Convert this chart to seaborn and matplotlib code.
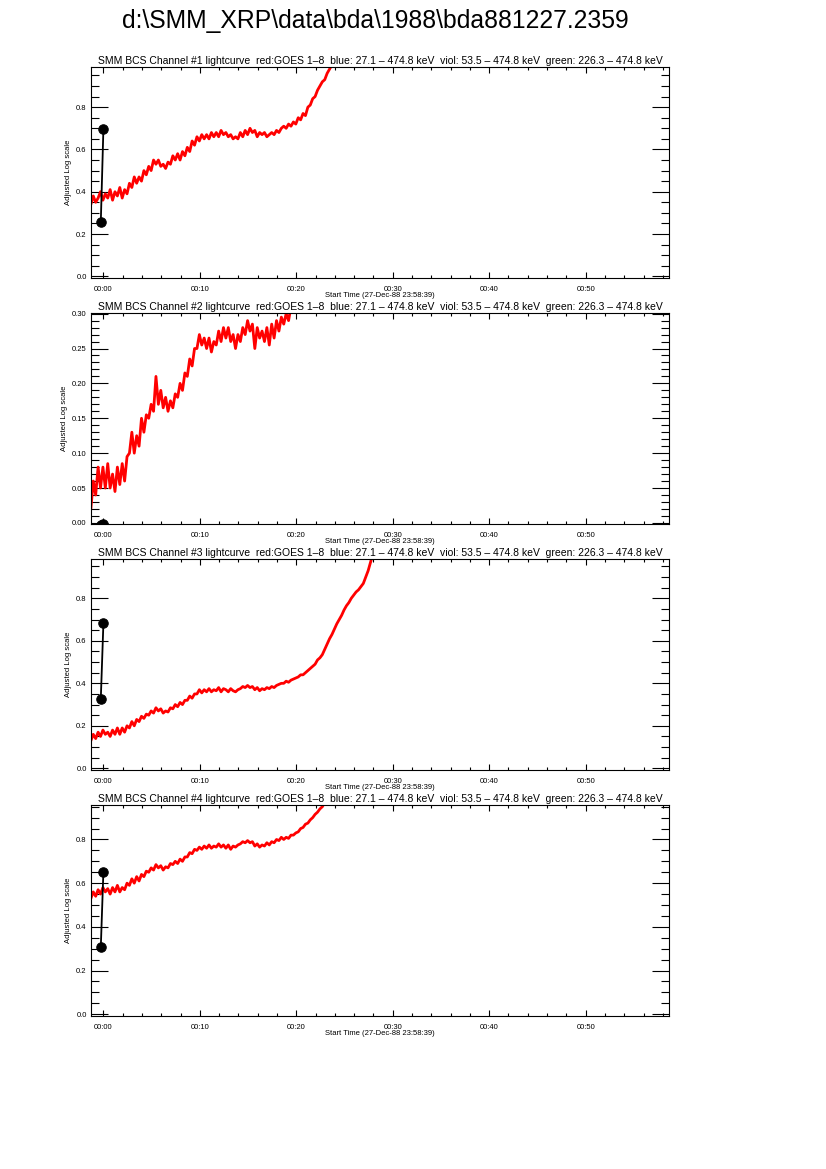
import numpy as np
import pandas as pd
import matplotlib
matplotlib.use("Agg")
import matplotlib.pyplot as plt
import matplotlib.ticker as mticker
import seaborn as sns

sns.set_style("ticks")
plt.rcParams['font.family'] = ['Liberation Sans', 'DejaVu Sans']
plt.rcParams['text.color'] = 'black'
plt.rcParams['axes.labelcolor'] = 'black'
plt.rcParams['xtick.color'] = 'black'
plt.rcParams['ytick.color'] = 'black'
plt.rcParams['axes.edgecolor'] = 'black'

# Time grid of the lightcurves: minutes relative to 00:00, sample step in minutes
t0 = -1.3
dt = 0.25

# Channel #1 red curve (adjusted log scale)
ch1 = [0.34, 0.38, 0.35, 0.37, 0.40, 0.36, 0.39, 0.37, 0.41, 0.36, 0.40, 0.38,
       0.42, 0.37, 0.41, 0.39, 0.44, 0.42, 0.47, 0.44, 0.47, 0.45, 0.50, 0.48,
       0.52, 0.50, 0.55, 0.53, 0.55, 0.52, 0.53, 0.51, 0.54, 0.53, 0.57, 0.55,
       0.58, 0.55, 0.59, 0.57, 0.61, 0.59, 0.64, 0.62, 0.66, 0.64, 0.67, 0.65,
       0.67, 0.65, 0.68, 0.66, 0.68, 0.66, 0.69, 0.67, 0.68, 0.66, 0.67, 0.65,
       0.66, 0.65, 0.68, 0.66, 0.69, 0.67, 0.70, 0.68, 0.69, 0.66, 0.68, 0.67,
       0.68, 0.66, 0.67, 0.68, 0.67, 0.69, 0.68, 0.70, 0.71, 0.70, 0.72, 0.71,
       0.73, 0.72, 0.75, 0.74, 0.77, 0.76, 0.80, 0.81, 0.84, 0.85, 0.88, 0.90,
       0.92, 0.93, 0.96, 0.98, 1.00, 1.02]

# Channel #2 red curve
ch2 = [0.02, 0.06, 0.04, 0.08, 0.05, 0.08, 0.05, 0.085, 0.05, 0.07, 0.045, 0.08,
       0.055, 0.085, 0.06, 0.095, 0.10, 0.13, 0.10, 0.125, 0.11, 0.15, 0.13, 0.155,
       0.15, 0.17, 0.16, 0.21, 0.17, 0.19, 0.165, 0.18, 0.16, 0.175, 0.165, 0.185,
       0.18, 0.20, 0.19, 0.215, 0.21, 0.235, 0.225, 0.25, 0.25, 0.27, 0.255, 0.265,
       0.25, 0.265, 0.245, 0.26, 0.255, 0.275, 0.26, 0.28, 0.265, 0.28, 0.26, 0.27,
       0.25, 0.27, 0.26, 0.28, 0.27, 0.29, 0.275, 0.285, 0.25, 0.28, 0.265, 0.275,
       0.26, 0.28, 0.255, 0.285, 0.265, 0.29, 0.275, 0.295, 0.285, 0.30, 0.29, 0.31,
       0.31]

# Channel #3 red curve
ch3 = [0.13, 0.16, 0.14, 0.17, 0.15, 0.18, 0.16, 0.17, 0.15, 0.18, 0.16, 0.19,
       0.16, 0.19, 0.17, 0.20, 0.19, 0.22, 0.20, 0.23, 0.22, 0.245, 0.235, 0.255,
       0.25, 0.27, 0.26, 0.285, 0.27, 0.28, 0.26, 0.27, 0.265, 0.285, 0.28, 0.30,
       0.29, 0.31, 0.30, 0.32, 0.32, 0.34, 0.33, 0.35, 0.35, 0.37, 0.355, 0.37,
       0.36, 0.375, 0.36, 0.37, 0.365, 0.38, 0.36, 0.375, 0.37, 0.36, 0.375, 0.365,
       0.36, 0.37, 0.375, 0.385, 0.38, 0.39, 0.38, 0.385, 0.37, 0.38, 0.365, 0.375,
       0.37, 0.38, 0.375, 0.385, 0.38, 0.39, 0.395, 0.40, 0.40, 0.41, 0.405, 0.415,
       0.42, 0.425, 0.43, 0.44, 0.44, 0.45, 0.46, 0.47, 0.48, 0.49, 0.51, 0.52,
       0.535, 0.56, 0.585, 0.61, 0.63, 0.655, 0.68, 0.70, 0.72, 0.745, 0.765, 0.78,
       0.80, 0.815, 0.83, 0.84, 0.855, 0.87, 0.90, 0.93, 0.97, 1.01]

# Channel #4 red curve
ch4 = [0.53, 0.56, 0.54, 0.57, 0.55, 0.58, 0.56, 0.575, 0.55, 0.58, 0.56, 0.59,
       0.56, 0.58, 0.57, 0.60, 0.59, 0.62, 0.60, 0.63, 0.61, 0.64, 0.63, 0.655,
       0.65, 0.67, 0.66, 0.685, 0.67, 0.68, 0.66, 0.675, 0.67, 0.69, 0.685, 0.70,
       0.69, 0.71, 0.70, 0.72, 0.72, 0.74, 0.735, 0.755, 0.75, 0.765, 0.755, 0.77,
       0.76, 0.775, 0.76, 0.77, 0.765, 0.78, 0.765, 0.775, 0.76, 0.775, 0.755, 0.77,
       0.765, 0.775, 0.78, 0.79, 0.785, 0.795, 0.785, 0.79, 0.77, 0.78, 0.765, 0.775,
       0.77, 0.785, 0.775, 0.79, 0.785, 0.80, 0.795, 0.81, 0.80, 0.81, 0.805, 0.82,
       0.82, 0.83, 0.835, 0.85, 0.855, 0.87, 0.875, 0.89, 0.90, 0.915, 0.925, 0.94,
       0.95, 0.97, 0.99]

# Black two-point markers per channel (minutes, value)
dots_t = [-0.27, 0.0]
dots_v = [[0.256, 0.697], [-0.003, -0.002], [0.326, 0.682], [0.306, 0.653]]

curves = [ch1, ch2, ch3, ch4]
ylims = [(-0.008, 0.99), (-0.0015, 0.301), (-0.008, 0.985), (-0.008, 0.958)]
ymajor = [0.2, 0.05, 0.2, 0.2]
yminor = [0.05, 0.01, 0.05, 0.05]
yfmt = ['%.1f', '%.2f', '%.1f', '%.1f']

xticks = [0, 10, 20, 30, 40, 50]
xtick_labels = ['00:00', '00:10', '00:20', '00:30', '00:40', '00:50']

panel_title = ('SMM BCS Channel #{} lightcurve  red:GOES 1\u20138  blue: 27.1 \u2013 474.8 keV  '
               'viol: 53.5 \u2013 474.8 keV  green: 226.3 \u2013 474.8 keV')

fig = plt.figure(figsize=(8.26, 11.69), dpi=100)
fig.text(0.454, 0.982, r'd:\SMM_XRP\data\bda\1988\bda881227.2359',
         ha='center', va='center', fontsize=17.8)

bottoms = [0.7622, 0.5518, 0.3413, 0.1309]
for i, vals in enumerate(curves):
    ax = fig.add_axes([0.110, bottoms[i], 0.700, 0.1805])
    df = pd.DataFrame({'t': t0 + dt * np.arange(len(vals)), 'v': vals})
    sns.lineplot(data=df, x='t', y='v', color='red', linewidth=2.0, ax=ax)
    sns.lineplot(x=dots_t, y=dots_v[i], color='black', linewidth=1.3,
                 marker='o', markersize=6.8, markeredgecolor='black', ax=ax)
    ax.set_xlim(-1.3, 58.65)
    ax.set_ylim(*ylims[i])
    ax.set_xticks(xticks)
    ax.set_xticklabels(xtick_labels)
    ax.xaxis.set_minor_locator(mticker.MultipleLocator(2))
    ax.yaxis.set_major_locator(mticker.MultipleLocator(ymajor[i]))
    ax.yaxis.set_minor_locator(mticker.MultipleLocator(yminor[i]))
    ax.yaxis.set_major_formatter(mticker.FormatStrFormatter(yfmt[i]))
    ax.tick_params(which='both', direction='in', top=True, right=True,
                   labelsize=5.5, width=0.8, color='black')
    ax.tick_params(axis='x', which='major', length=4, pad=6)
    ax.tick_params(axis='x', which='minor', length=2)
    ax.tick_params(axis='y', which='major', length=12, pad=3)
    ax.tick_params(axis='y', which='minor', length=6)
    for s in ax.spines.values():
        s.set_linewidth(0.8)
    ax.set_title(panel_title.format(i + 1), fontsize=7.45, pad=2)
    ax.set_ylabel('Adjusted Log scale', fontsize=5.5, labelpad=3)
    ax.set_xlabel('Start Time (27-Dec-88 23:58:39)', fontsize=5.5, labelpad=-1)

fig.savefig('out.png', dpi=100)
